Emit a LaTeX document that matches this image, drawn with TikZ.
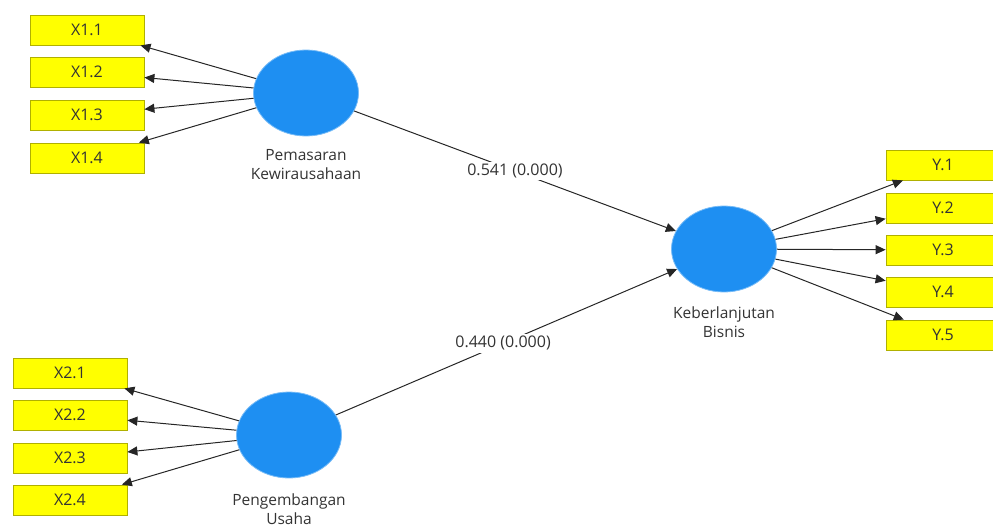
\documentclass[tikz,border=0pt]{standalone}
\usepackage{fontspec}
\setmainfont{Open Sans}
\usetikzlibrary{shapes.geometric,arrows.meta,positioning}
\definecolor{lvblue}{HTML}{1E8FF2}
\definecolor{mvyellow}{HTML}{FFFF00}
\definecolor{mvborder}{HTML}{B0B000}
\definecolor{inkgray}{HTML}{333333}

\begin{document}
\begin{tikzpicture}[x=1pt, y=-1pt,
    latent/.style={ellipse, fill=lvblue, draw=lvblue!60!white, line width=0.8pt, minimum width=105pt, minimum height=86pt, inner sep=0pt},
    indic/.style={rectangle, fill=mvyellow, draw=mvborder, line width=0.8pt, minimum width=114pt, minimum height=30pt, inner sep=0pt, font=\fontsize{16}{18}\selectfont, text=inkgray},
    lvlabel/.style={align=center, font=\fontsize{15.5}{19}\selectfont, text=inkgray, inner sep=0pt},
    load/.style={-{Triangle[length=10pt, width=9pt]}, line width=1pt, black!85},
    coef/.style={fill=white, font=\fontsize{16}{18}\selectfont, text=inkgray, inner sep=2pt}
]
    \path[use as bounding box, clip] (0,0) rectangle (993,525);

    % Latent variables
    \node[latent] (PK) at (306,93) {};
    \node[latent] (PU) at (289,435) {};
    \node[latent] (KB) at (724,249) {};

    \node[lvlabel, below=13pt of PK] {Pemasaran\\Kewirausahaan};
    \node[lvlabel, below=15pt of PU] {Pengembangan\\Usaha};
    \node[lvlabel, below=14pt of KB] {Keberlanjutan\\Bisnis};

    % Indicators
    \foreach \i/\y in {1/30, 2/72, 3/115, 4/158}
        \node[indic] (x1\i) at (87,\y) {X1.\i};
    \foreach \i/\y in {1/373, 2/415, 3/458, 4/500}
        \node[indic] (x2\i) at (70,\y) {X2.\i};
    \foreach \i/\y in {1/165, 2/208, 3/250, 4/292, 5/335}
        \node[indic] (y\i) at (943,\y) {Y.\i};

    % Outer loadings
    \foreach \i in {1,...,4} {
        \draw[load] (PK) -- (x1\i);
        \draw[load] (PU) -- (x2\i);
    }
    \foreach \i in {1,...,5}
        \draw[load] (KB) -- (y\i);

    % Path coefficients
    \draw[load] (PK) -- node[coef, pos=0.5] {0.541 (0.000)} (KB);
    \draw[load] (PU) -- node[coef, pos=0.49] {0.440 (0.000)} (KB);

\end{tikzpicture}
\end{document}
